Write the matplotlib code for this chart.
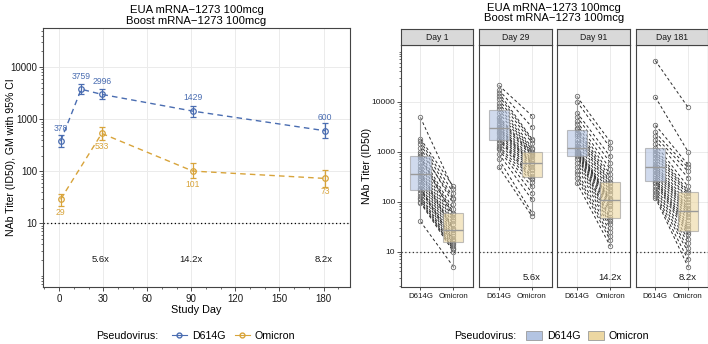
import matplotlib.pyplot as plt
import numpy as np
from matplotlib import ticker
from matplotlib.cbook import boxplot_stats
from matplotlib.lines import Line2D
from matplotlib.patches import Patch

plt.rcParams['font.family'] = ['Liberation Sans', 'DejaVu Sans']

BLUE = '#4a6db1'
GOLD = '#d8a43b'
BOX_BLUE = '#b3c4e2'
BOX_GOLD = '#ecd7a2'
title = 'EUA mRNA\u22121273 100mcg\nBoost mRNA\u22121273 100mcg'

# geometric means with 95% CI by study day
d614g_days = [1, 15, 29, 91, 181]
d614g_gm = [378, 3759, 2996, 1429, 600]
d614g_lo = [290, 3000, 2450, 1100, 430]
d614g_hi = [490, 4700, 3800, 1830, 850]

omicron_days = [1, 29, 91, 181]
omicron_gm = [29, 533, 101, 73]
omicron_lo = [22, 400, 73, 50]
omicron_hi = [36, 710, 143, 105]

fold_days = [29, 91, 181]
fold_labels = ['5.6x', '14.2x', '8.2x']

# individual paired titers per visit (D614G, Omicron)
visits = ['Day 1', 'Day 29', 'Day 91', 'Day 181']
subj_d614g = {
    'Day 1': [4800, 1800, 1600, 1400, 1200, 1000, 900, 800, 780, 700, 600, 520, 450, 400, 370,
              340, 300, 270, 240, 210, 190, 180, 170, 150, 130, 120, 110, 100, 95, 40],
    'Day 29': [21000, 17000, 15000, 13000, 11000, 9500, 8000, 7000, 6000, 5000, 4600, 4200, 3800, 3400, 3100,
               2900, 2700, 2500, 2300, 2100, 1900, 1800, 1700, 1500, 1300, 1200, 1100, 900, 700, 490],
    'Day 91': [12600, 10000, 6000, 5000, 4000, 3500, 3000, 2800, 2500, 2200, 2000, 1700, 1500, 1300, 1200,
               1150, 1100, 1050, 1000, 950, 900, 850, 800, 700, 600, 500, 400, 350, 300, 235],
    'Day 181': [66000, 12300, 3400, 2400, 2000, 1700, 1400, 1200, 1050, 950, 850, 750, 650, 570, 520,
                480, 440, 400, 360, 320, 290, 270, 250, 230, 200, 180, 160, 140, 130, 120],
}
subj_omicron = {
    'Day 1': [180, 200, 150, 120, 90, 110, 70, 60, 50, 55, 45, 40, 35, 30, 28,
              27, 25, 22, 20, 18, 16, 17, 15, 14, 13, 12, 11, 11, 10, 5],
    'Day 29': [5200, 3100, 1800, 1700, 1500, 1200, 1100, 1000, 950, 900, 850, 800, 700, 650, 600,
               580, 550, 500, 450, 420, 380, 330, 300, 280, 250, 200, 150, 110, 60, 51],
    'Day 91': [1580, 1200, 800, 600, 450, 350, 300, 250, 230, 200, 180, 160, 140, 120, 110,
               105, 100, 90, 80, 70, 60, 50, 45, 40, 35, 30, 25, 20, 17, 13],
    'Day 181': [7700, 1000, 550, 480, 400, 300, 200, 160, 145, 130, 110, 100, 85, 75, 68,
                62, 55, 48, 42, 36, 32, 28, 25, 22, 18, 15, 12, 10, 7, 5],
}
virus_labels = ['D614G', 'Omicron']

W, H = 708, 344
fig = plt.figure(figsize=(W / 100, H / 100), dpi=100)


def px_axes(x0, y0, x1, y1):
    return fig.add_axes([x0 / W, 1 - y1 / H, (x1 - x0) / W, (y1 - y0) / H])


def style_frame(ax):
    for s in ax.spines.values():
        s.set_color('#444444')
        s.set_linewidth(0.8)
    ax.set_facecolor('white')


def log_ticks(ax, size, labels=True):
    ax.set_yscale('log')
    ax.yaxis.set_major_locator(ticker.FixedLocator([10, 100, 1000, 10000]))
    ax.yaxis.set_minor_locator(ticker.LogLocator(base=10, subs=np.arange(1, 10), numticks=20))
    ax.yaxis.set_minor_formatter(ticker.NullFormatter())
    if labels:
        ax.yaxis.set_major_formatter(ticker.FuncFormatter(lambda v, p: f'{int(v)}'))
    else:
        ax.yaxis.set_major_formatter(ticker.NullFormatter())
    ax.tick_params(axis='y', which='major', length=3, width=0.6, color='#333333',
                   labelsize=size, labelcolor='#1a1a1a', pad=1)
    ax.tick_params(axis='y', which='minor', length=1.6, width=0.5, color='#333333')
    ax.grid(True, which='major', color='#ebebeb', linewidth=0.7)
    ax.set_axisbelow(True)


# ---- left: GM over time ----
ax = px_axes(43, 28, 350, 287)
style_frame(ax)
log_ticks(ax, 7)
ax.set_ylim(10 ** -0.22, 10 ** 4.75)
ax.set_xlim(-11, 198)
ax.xaxis.set_major_locator(ticker.MultipleLocator(30))
ax.xaxis.set_minor_locator(ticker.MultipleLocator(10))
ax.tick_params(axis='x', which='major', length=3, width=0.6, labelsize=7, pad=2,
               color='#333333', labelcolor='#1a1a1a')
ax.tick_params(axis='x', which='minor', length=1.6, width=0.5, color='#333333')
ax.grid(True, axis='x', which='major', color='#ebebeb', linewidth=0.7)

for days, gm, lo, hi, col, sgn in [
        (d614g_days, d614g_gm, d614g_lo, d614g_hi, BLUE, 1),
        (omicron_days, omicron_gm, omicron_lo, omicron_hi, GOLD, -1)]:
    gm = np.array(gm)
    err = [gm - np.array(lo), np.array(hi) - gm]
    ax.plot(days, gm, color=col, lw=1.0, ls=(0, (4, 3)), zorder=3)
    ax.errorbar(days, gm, yerr=err, fmt='o', mfc='none', mec=col, ms=4, mew=0.9,
                ecolor=col, elinewidth=0.9, capsize=2.5, capthick=0.9, zorder=4)
    for d, g in zip(days, gm):
        ax.annotate(f'{g}', (d, g), xytext=(0, 9.5 * sgn), textcoords='offset points',
                    ha='center', va='center', fontsize=6.2, color=col)

ax.axhline(10, color='black', lw=0.9, ls=(0, (1, 2)), zorder=2)
for d, lab in zip(fold_days, fold_labels):
    ax.text(d - 1, 2, lab, ha='center', va='center', fontsize=6.8, color='#1a1a1a')
ax.set_xlabel('Study Day', fontsize=7.8, labelpad=1)
ax.set_ylabel('NAb Titer (ID50), GM with 95% CI', fontsize=7.6, va='center')
ax.yaxis.set_label_coords(-32 / 307, 0.5)
ax.set_title(title, fontsize=8.1, pad=3, linespacing=1.1)

fig.legend(
    handles=[Line2D([], [], color=BLUE, marker='o', mfc='none', ms=3.5, lw=0.8),
             Line2D([], [], color=GOLD, marker='o', mfc='none', ms=3.5, lw=0.8)],
    labels=virus_labels, loc='center left', bbox_to_anchor=(172 / W, 1 - 336 / H),
    ncol=2, frameon=False, fontsize=7.7, handlelength=1.4, handletextpad=0.45,
    columnspacing=0.9, borderpad=0, borderaxespad=0)
fig.text(158 / W, 1 - 336 / H, 'Pseudovirus:', ha='right', va='center', fontsize=7.7)

# ---- right: individual titers per visit ----
panel_x = [(400.7, 473), (479, 551.7), (557, 630), (635.7, 707.5)]
ylo, yhi = 10 ** 0.29, 10 ** 5.13
axes_r = []
for k, (visit, (x0, x1)) in enumerate(zip(visits, panel_x)):
    a = px_axes(x0, 45, x1, 287)
    style_frame(a)
    log_ticks(a, 6, labels=(k == 0))
    if k > 0:
        a.tick_params(axis='y', which='both', length=0)
    a.set_ylim(ylo, yhi)
    a.set_xlim(0.4, 2.6)
    a.set_xticks([1, 2])
    a.set_xticklabels(virus_labels)
    a.tick_params(axis='x', length=2.5, width=0.6, labelsize=5.7, pad=2,
                  color='#333333', labelcolor='#1a1a1a')
    a.grid(True, axis='x', color='#ebebeb', linewidth=0.7)

    dv = np.array(subj_d614g[visit])
    ov = np.array(subj_omicron[visit])
    for d, o in zip(dv, ov):
        a.plot([1, 2], [d, o], color='#2b2b2b', lw=0.7, ls=(0, (3, 2.5)), zorder=2)
    a.plot(np.ones_like(dv), dv, 'o', mfc='none', mec='#6e6e6e', ms=3.2, mew=0.6, zorder=3)
    a.plot(np.full_like(ov, 2), ov, 'o', mfc='none', mec='#6e6e6e', ms=3.2, mew=0.6, zorder=3)

    for pos, vals, fc in [(1, dv, BOX_BLUE), (2, ov, BOX_GOLD)]:
        st = boxplot_stats(np.log10(vals))[0]
        for key in ('med', 'q1', 'q3', 'whislo', 'whishi'):
            st[key] = 10 ** st[key]
        st['fliers'] = []
        a.bxp([st], positions=[pos], widths=0.62, patch_artist=True, showfliers=False,
              showcaps=False, manage_ticks=False,
              boxprops=dict(facecolor=fc, edgecolor='#9a9a9a', lw=0.8, alpha=0.62),
              medianprops=dict(color='#9a9a9a', lw=1.0),
              whiskerprops=dict(color='#9a9a9a', lw=0.8), zorder=4)

    a.axhline(10, color='#333333', lw=0.9, ls=(0, (1, 2)), zorder=2)
    if k > 0:
        a.text(2, 3, fold_labels[k - 1], ha='center', va='center', fontsize=6.8, color='#1a1a1a')

    s = px_axes(x0, 29, x1, 45)
    s.set_facecolor('#d9d9d9')
    for sp in s.spines.values():
        sp.set_color('#444444')
        sp.set_linewidth(0.8)
    s.set_xticks([])
    s.set_yticks([])
    s.text(0.5, 0.5, visit, ha='center', va='center', fontsize=6.2, color='#1a1a1a',
           transform=s.transAxes)
    axes_r.append(a)

axes_r[0].set_ylabel('NAb Titer (ID50)', fontsize=7.6, va='center')
axes_r[0].yaxis.set_label_coords(-34 / 72.3, 0.5)
fig.text(554 / W, 1 - 13 / H, title, ha='center', va='center', fontsize=8.1, linespacing=1.1)

fig.legend(
    handles=[Patch(facecolor=BOX_BLUE, edgecolor='#9a9a9a', lw=0.6),
             Patch(facecolor=BOX_GOLD, edgecolor='#9a9a9a', lw=0.6)],
    labels=virus_labels, loc='center left', bbox_to_anchor=(526 / W, 1 - 336 / H),
    ncol=2, frameon=False, fontsize=7.7, handlelength=1.5, handleheight=1.0,
    handletextpad=0.45, columnspacing=0.7, borderpad=0, borderaxespad=0)
fig.text(516 / W, 1 - 336 / H, 'Pseudovirus:', ha='right', va='center', fontsize=7.7)

fig.savefig('out.png', dpi=100)
